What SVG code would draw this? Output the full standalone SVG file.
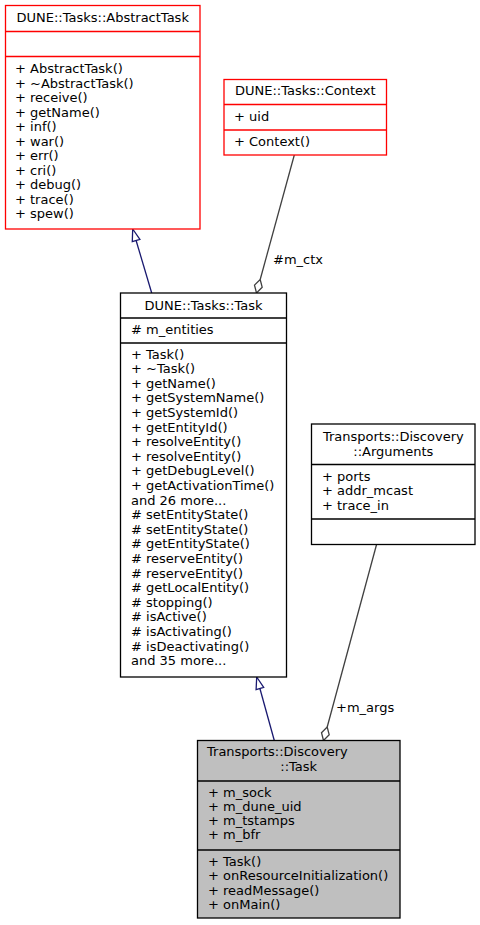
<svg xmlns="http://www.w3.org/2000/svg" width="480" height="925" viewBox="0 0 480 925">
<defs>
<style>
text{font-family:"DejaVu Sans",sans-serif;font-size:13px;fill:#000}
.c{text-anchor:middle}
.red rect,.red line{stroke:#ff0000;stroke-width:1.3;fill:#fff}
.blk rect,.blk line{stroke:#000;stroke-width:1.3;fill:#fff}
.blk rect.g{fill:#bfbfbf}
.inh{stroke:#191970;stroke-width:1.3;fill:none}
.inhh{stroke:#191970;stroke-width:1.3;fill:#fff}
.agg{stroke:#404040;stroke-width:1.3;fill:none}
.aggh{stroke:#404040;stroke-width:1.3;fill:#fff}
</style>
</defs>
<rect width="480" height="925" fill="#fff"/>
<g id="connectors">
<line class="inh" x1="151.7" y1="293" x2="136.1" y2="240.5"/>
<polygon class="inhh" points="132.7,229 139.9,239.4 132.3,241.6"/>
<line class="inh" x1="274.3" y1="740.5" x2="259.9" y2="688.5"/>
<polygon class="inhh" points="256.7,677 263.7,687.4 256.1,689.6"/>
<line class="agg" x1="294.3" y1="155" x2="260.2" y2="279.5"/>
<polygon class="aggh" points="256.5,293 254.5,285.1 260.2,279.5 262.2,287.3"/>
<text x="273" y="264">#m_ctx</text>
<line class="agg" x1="376.7" y1="544" x2="327.2" y2="727"/>
<polygon class="aggh" points="323.5,740.5 321.5,732.7 327.2,727 329.2,734.8"/>
<text x="336" y="712">+m_args</text>
</g>
<g id="abstracttask" class="red">
<rect x="5.5" y="5.5" width="194.5" height="223.5"/>
<line x1="5.5" y1="31.5" x2="200" y2="31.5"/>
<line x1="5.5" y1="56.5" x2="200" y2="56.5"/>
<text class="c" x="102.7" y="21.5">DUNE::Tasks::AbstractTask</text>
<text x="15" y="73">+ AbstractTask()</text>
<text x="15" y="87.5">+ ~AbstractTask()</text>
<text x="15" y="102">+ receive()</text>
<text x="15" y="116.5">+ getName()</text>
<text x="15" y="131">+ inf()</text>
<text x="15" y="145.5">+ war()</text>
<text x="15" y="160">+ err()</text>
<text x="15" y="174.5">+ cri()</text>
<text x="15" y="189">+ debug()</text>
<text x="15" y="203.5">+ trace()</text>
<text x="15" y="218">+ spew()</text>
</g>
<g id="context" class="red">
<rect x="224" y="79.5" width="162.5" height="75.5"/>
<line x1="224" y1="104.5" x2="386.5" y2="104.5"/>
<line x1="224" y1="130" x2="386.5" y2="130"/>
<text class="c" x="305.3" y="95.3">DUNE::Tasks::Context</text>
<text x="234" y="121.3">+ uid</text>
<text x="234" y="146.3">+ Context()</text>
</g>
<g id="task" class="blk">
<rect x="120.5" y="293" width="166" height="384"/>
<line x1="120.5" y1="318" x2="286.5" y2="318"/>
<line x1="120.5" y1="343" x2="286.5" y2="343"/>
<text class="c" x="203.5" y="309.6">DUNE::Tasks::Task</text>
<text x="131" y="334"># m_entities</text>
<text x="131" y="358.5">+ Task()</text>
<text x="131" y="373.1">+ ~Task()</text>
<text x="131" y="387.7">+ getName()</text>
<text x="131" y="402.3">+ getSystemName()</text>
<text x="131" y="416.9">+ getSystemId()</text>
<text x="131" y="431.5">+ getEntityId()</text>
<text x="131" y="446.1">+ resolveEntity()</text>
<text x="131" y="460.7">+ resolveEntity()</text>
<text x="131" y="475.3">+ getDebugLevel()</text>
<text x="131" y="489.9">+ getActivationTime()</text>
<text x="131" y="504.5">and 26 more...</text>
<text x="131" y="519.1"># setEntityState()</text>
<text x="131" y="533.7"># setEntityState()</text>
<text x="131" y="548.3"># getEntityState()</text>
<text x="131" y="562.9"># reserveEntity()</text>
<text x="131" y="577.5"># reserveEntity()</text>
<text x="131" y="592.1"># getLocalEntity()</text>
<text x="131" y="606.7"># stopping()</text>
<text x="131" y="621.3"># isActive()</text>
<text x="131" y="635.9"># isActivating()</text>
<text x="131" y="650.5"># isDeactivating()</text>
<text x="131" y="665.1">and 35 more...</text>
</g>
<g id="arguments" class="blk">
<rect x="311.5" y="424" width="163.5" height="120.5"/>
<line x1="311.5" y1="464.5" x2="475" y2="464.5"/>
<line x1="311.5" y1="519" x2="475" y2="519"/>
<text class="c" x="393.3" y="441">Transports::Discovery</text>
<text class="c" x="393.3" y="455.5">::Arguments</text>
<text x="322" y="481">+ ports</text>
<text x="322" y="495.3">+ addr_mcast</text>
<text x="322" y="509.5">+ trace_in</text>
</g>
<g id="discoverytask" class="blk">
<rect class="g" x="197.5" y="740.5" width="202.5" height="177.5"/>
<line x1="197.5" y1="781" x2="400" y2="781"/>
<line x1="197.5" y1="850" x2="400" y2="850"/>
<text x="207" y="756">Transports::Discovery</text>
<text class="c" x="298.7" y="770.5">::Task</text>
<text x="208" y="796.5">+ m_sock</text>
<text x="208" y="810.8">+ m_dune_uid</text>
<text x="208" y="825.1">+ m_tstamps</text>
<text x="208" y="839.4">+ m_bfr</text>
<text x="208" y="865.5">+ Task()</text>
<text x="208" y="880">+ onResourceInitialization()</text>
<text x="208" y="894.5">+ readMessage()</text>
<text x="208" y="909">+ onMain()</text>
</g>
</svg>
